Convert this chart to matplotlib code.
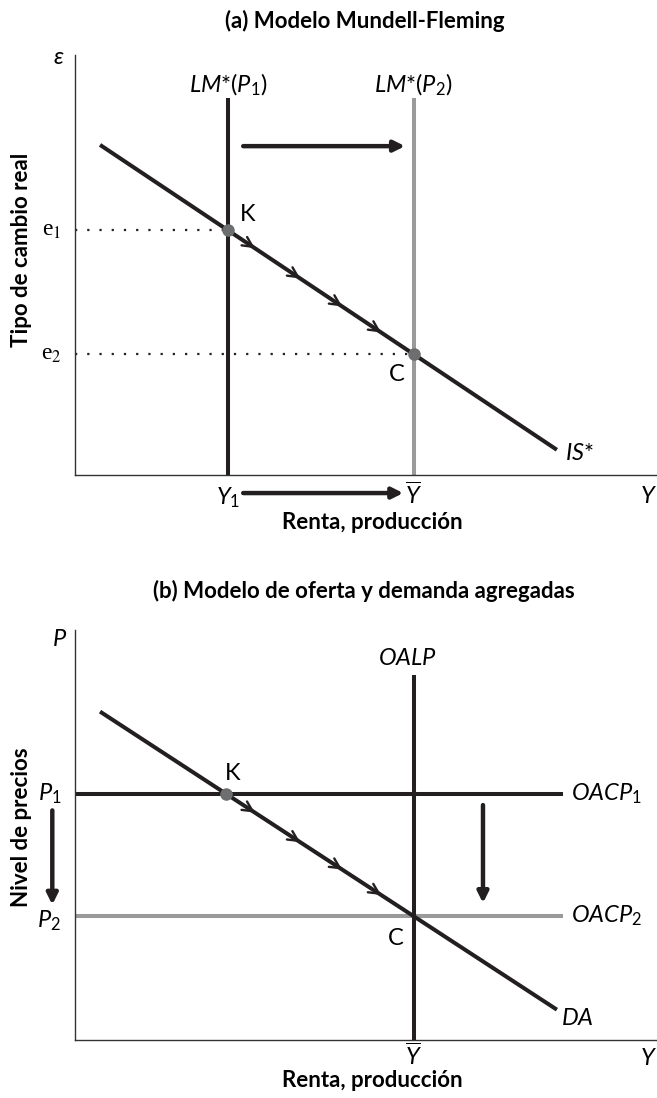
import matplotlib
matplotlib.use("Agg")
import matplotlib.pyplot as plt
import numpy as np

plt.rcParams['font.family'] = ['Lato', 'DejaVu Sans']
plt.rcParams['mathtext.fontset'] = 'custom'
plt.rcParams['mathtext.rm'] = 'Lato'
plt.rcParams['mathtext.it'] = 'Lato:italic'
plt.rcParams['mathtext.bf'] = 'Lato:bold'

# --- datos (a) Mundell-Fleming, escala 0-100 ---
is_x = [4.3, 82.8]
is_y = [78.6, 6.0]
y1 = 26.3          # renta inicial
y_bar = 58.2       # renta natural
e1 = 58.3
e2 = 28.8
lm_top = 89.8
shift_arrow_x = [28.9, 56.7]
shift_arrow_y = 78.3

# --- datos (b) oferta y demanda agregadas ---
da_x = [4.3, 82.8]
da_y = [80.1, 7.4]
p1 = 60.0
p2 = 30.2
oalp_top = 89.0
oacp_end = 83.9
k_b = 26.0
drop_right = [70.1, 57.3, 33.4]
drop_left = [-3.9, 56.0, 33.0]

chevron_x = [30.9, 38.7, 45.9, 52.6]

BLACK = '#231f20'
GRAY = '#9a9a9a'
DOT = '#6d6e70'
LW = 2.9
FS = 17        # etiquetas en cursiva
FS_B = 16      # titulos y ejes


def chevrons(ax, xs, line_x, line_y):
    for cx in xs:
        cy = np.interp(cx, line_x, line_y)
        dx = 0.6
        dy = np.interp(cx - dx, line_x, line_y)
        ax.annotate('', xy=(cx, cy), xytext=(cx - dx, dy),
                    arrowprops=dict(arrowstyle='->', lw=1.7, color=BLACK,
                                    mutation_scale=18, shrinkA=0, shrinkB=0))


def big_arrow(ax, start, end):
    ax.annotate('', xy=end, xytext=start, annotation_clip=False,
                arrowprops=dict(arrowstyle='-|>', lw=3.2, color=BLACK,
                                mutation_scale=16, shrinkA=0, shrinkB=0))


def setup(ax):
    ax.set_xlim(0, 100)
    ax.set_ylim(0, 100)
    for s in ['top', 'right']:
        ax.spines[s].set_visible(False)
    for s in ['left', 'bottom']:
        ax.spines[s].set_linewidth(1.0)
        ax.spines[s].set_color('#333333')
    ax.set_xticks([])
    ax.set_yticks([])


def axis_labels(ax, xlabel, ylabel, xpos, ypos):
    ax.set_xlabel(xlabel, fontsize=FS_B, fontweight='bold', va='center')
    ax.xaxis.set_label_coords(*xpos)
    ax.set_ylabel(ylabel, fontsize=FS_B, fontweight='bold', va='center')
    ax.yaxis.set_label_coords(*ypos)


fig = plt.figure(figsize=(6.57, 10.98), dpi=100)

# ---------------- (a) ----------------
ax1 = fig.add_axes([75 / 657, 1 - 475 / 1098, 582 / 657, 420 / 1098])
setup(ax1)
ax1.plot([0, y1], [e1, e1], ls=(0, (1, 4.5)), lw=1.6, color=BLACK, zorder=1)
ax1.plot([0, y_bar], [e2, e2], ls=(0, (1, 4.5)), lw=1.6, color=BLACK, zorder=1)
ax1.plot([y1, y1], [0, lm_top], color=BLACK, lw=LW, solid_capstyle='butt', zorder=2)
ax1.plot([y_bar, y_bar], [0, lm_top], color=GRAY, lw=LW, solid_capstyle='butt', zorder=2)
ax1.plot(is_x, is_y, color=BLACK, lw=LW, solid_capstyle='butt', zorder=3)
chevrons(ax1, chevron_x, is_x, is_y)
ax1.plot([y1, y_bar], [e1, e2], 'o', color=DOT, ms=8, zorder=4)
big_arrow(ax1, (shift_arrow_x[0], shift_arrow_y), (shift_arrow_x[1], shift_arrow_y))
big_arrow(ax1, (shift_arrow_x[0], -4.3), (shift_arrow_x[1] - 0.3, -4.3))

ax1.text(-2.8, 99.5, 'ε', fontsize=FS, ha='center', va='center', style='italic')
ax1.text(y1, 92.9, r'$LM{*}(P_{\mathrm{1}})$', fontsize=FS, ha='center', va='center')
ax1.text(y_bar, 92.9, r'$LM{*}(P_{\mathrm{2}})$', fontsize=FS, ha='center', va='center')
ax1.text(29.6, 62.0, 'K', fontsize=FS, ha='center', va='center')
ax1.text(55.3, 24.0, 'C', fontsize=FS, ha='center', va='center')
ax1.text(-4.0, e1, 'e$_1$', fontsize=FS, ha='center', va='center',
         family=['Liberation Serif'], math_fontfamily='stix')
ax1.text(-4.0, e2, 'e$_2$', fontsize=FS, ha='center', va='center',
         family=['Liberation Serif'], math_fontfamily='stix')
ax1.text(84.2, 5.0, r'$IS{*}$', fontsize=FS, ha='left', va='center')
ax1.text(y1, -5.4, r'$Y_{\mathrm{1}}$', fontsize=FS, ha='center', va='center')
ax1.text(y_bar, -4.8, r'$\overline{Y}$', fontsize=FS, ha='center', va='center')
ax1.text(98.6, -5.2, r'$Y$', fontsize=FS, ha='center', va='center')
axis_labels(ax1, 'Renta, producción', 'Tipo de cambio real',
            (0.51, -0.114), (-53 / 582, 0.535))
fig.text(365 / 657, 1 - 21 / 1098, '(a) Modelo Mundell-Fleming', fontsize=FS_B,
         fontweight='bold', ha='center', va='center')

# ---------------- (b) ----------------
ax2 = fig.add_axes([75 / 657, 1 - 1040 / 1098, 582 / 657, 410 / 1098])
setup(ax2)
ax2.plot([0, oacp_end], [p1, p1], color=BLACK, lw=LW, solid_capstyle='butt', zorder=2)
ax2.plot([0, oacp_end], [p2, p2], color=GRAY, lw=LW, solid_capstyle='butt', zorder=2)
ax2.plot([y_bar, y_bar], [0, oalp_top], color=BLACK, lw=LW, solid_capstyle='butt', zorder=3)
ax2.plot(da_x, da_y, color=BLACK, lw=LW, solid_capstyle='butt', zorder=3)
chevrons(ax2, chevron_x, da_x, da_y)
ax2.plot([k_b], [p1], 'o', color=DOT, ms=8, zorder=4)
big_arrow(ax2, (drop_right[0], drop_right[1]), (drop_right[0], drop_right[2]))
big_arrow(ax2, (drop_left[0], drop_left[1]), (drop_left[0], drop_left[2]))

ax2.text(-2.7, 97.6, r'$P$', fontsize=FS, ha='center', va='center')
ax2.text(57.2, 93.0, r'$OALP$', fontsize=FS, ha='center', va='center')
ax2.text(27.1, 65.0, 'K', fontsize=FS, ha='center', va='center')
ax2.text(55.2, 24.8, 'C', fontsize=FS, ha='center', va='center')
ax2.text(85.2, p1, r'$OACP_{\mathrm{1}}$', fontsize=FS, ha='left', va='center')
ax2.text(85.2, p2, r'$OACP_{\mathrm{2}}$', fontsize=FS, ha='left', va='center')
ax2.text(-4.4, p1, r'$P_{\mathrm{1}}$', fontsize=FS, ha='center', va='center')
ax2.text(-4.4, p2 - 1.0, r'$P_{\mathrm{2}}$', fontsize=FS, ha='center', va='center')
ax2.text(83.5, 5.3, r'$DA$', fontsize=FS, ha='left', va='center')
ax2.text(y_bar, -4.1, r'$\overline{Y}$', fontsize=FS, ha='center', va='center')
ax2.text(98.6, -4.4, r'$Y$', fontsize=FS, ha='center', va='center')
axis_labels(ax2, 'Renta, producción', 'Nivel de precios',
            (0.51, -0.098), (-53 / 582, 0.52))
fig.text(364 / 657, 1 - 591 / 1098, '(b) Modelo de oferta y demanda agregadas',
         fontsize=FS_B, fontweight='bold', ha='center', va='center')

fig.savefig('out.png', dpi=100)
